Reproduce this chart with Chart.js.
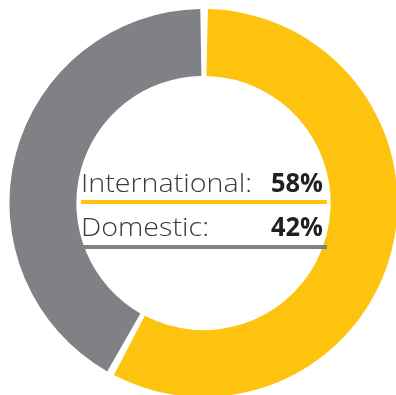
<!DOCTYPE html>
<html>
<head>
<meta charset="utf-8">
<script src="https://cdn.jsdelivr.net/npm/chart.js@4/dist/chart.umd.min.js"></script>
<style>
  html, body { margin: 0; padding: 0; background: #ffffff; overflow: hidden; width: 396px; height: 395px; }
  #wrap { position: absolute; left: 0; top: 0; width: 407px; height: 406px; }
</style>
</head>
<body>
<div id="wrap"><canvas id="c" width="407" height="406"></canvas></div>
<script>
const categories = ["International", "Domestic"];
const values = [58, 42];
const valueLabels = ["58%", "42%"];
const colors = ["#FDC30F", "#808184"];

const centerLabels = {
  id: 'centerLabels',
  afterDraw(chart) {
    const ctx = chart.ctx;
    const meta = chart.getDatasetMeta(0);
    const arc = meta.data[0];
    const cx = arc.x, cy = arc.y;
    const left = cx - 122.5, right = cx + 123.5;
    const baselines = [cy - 11, cy + 33];
    const lineTops = [cy - 3, cy + 42];
    ctx.save();
    ctx.font = '300 26px "Open Sans", Lato, sans-serif';
    const sx = 171 / ctx.measureText(categories[0] + ':').width;
    ctx.font = 'bold 26px "Open Sans", Lato, sans-serif';
    const sb = 52 / ctx.measureText(valueLabels[0]).width;
    categories.forEach((cat, i) => {
      ctx.textBaseline = 'alphabetic';
      ctx.save();
      ctx.translate(left, baselines[i]);
      ctx.scale(sx, 1);
      ctx.font = '300 26px "Open Sans", Lato, sans-serif';
      ctx.fillStyle = '#3a3a3c';
      ctx.textAlign = 'left';
      ctx.fillText(cat + ':', 0, 0);
      ctx.restore();
      ctx.save();
      ctx.translate(right - 4, baselines[i]);
      ctx.scale(sb, 1);
      ctx.font = 'bold 26px "Open Sans", Lato, sans-serif';
      ctx.fillStyle = '#231f20';
      ctx.textAlign = 'right';
      ctx.fillText(valueLabels[i], 0, 0);
      ctx.restore();
      ctx.fillStyle = colors[i];
      ctx.fillRect(left, lineTops[i], right - left, 4);
    });
    ctx.restore();
  }
};

new Chart(document.getElementById('c'), {
  type: 'doughnut',
  data: {
    labels: categories,
    datasets: [{
      data: values,
      backgroundColor: colors,
      borderWidth: 0,
      spacing: 4
    }]
  },
  options: {
    responsive: false,
    animation: false,
    radius: 192,
    cutout: 131,
    layout: { padding: 0 },
    plugins: { legend: { display: false }, tooltip: { enabled: false } }
  },
  plugins: [centerLabels]
});
</script>
</body>
</html>
